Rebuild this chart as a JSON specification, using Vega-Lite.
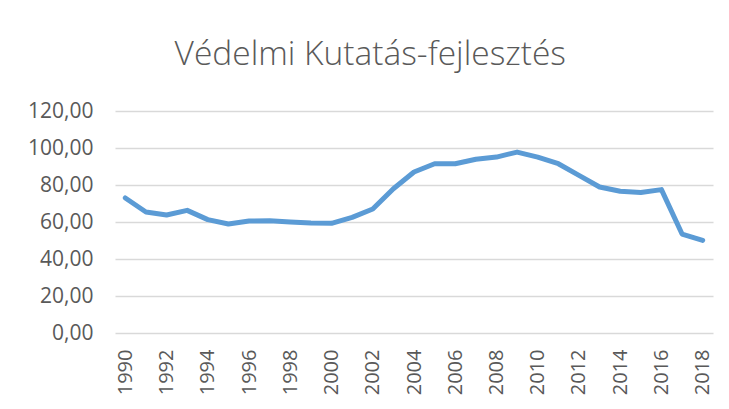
{
  "$schema": "https://vega.github.io/schema/vega-lite/v6.json",
  "width": 598,
  "height": 222,
  "autosize": {"type": "none"},
  "padding": {"left": 115, "top": 111, "right": 16, "bottom": 76},
  "title": {
    "text": "Védelmi Kutatás-fejlesztés",
    "font": "Open Sans",
    "fontSize": 33.5,
    "fontWeight": 300,
    "color": "#595959",
    "anchor": "middle",
    "frame": "bounds",
    "baseline": "alphabetic",
    "offset": 2
  },
  "config": {
    "view": {"stroke": null},
    "axis": {"labelFont": "Open Sans", "labelColor": "#595959", "titleFont": "Open Sans"}
  },
  "data": {
    "values": [
      {"year": 1990, "value": 73.0},
      {"year": 1991, "value": 65.4},
      {"year": 1992, "value": 63.8},
      {"year": 1993, "value": 66.3},
      {"year": 1994, "value": 61.3},
      {"year": 1995, "value": 58.9},
      {"year": 1996, "value": 60.5},
      {"year": 1997, "value": 60.7},
      {"year": 1998, "value": 60.0},
      {"year": 1999, "value": 59.5},
      {"year": 2000, "value": 59.3},
      {"year": 2001, "value": 62.5},
      {"year": 2002, "value": 67.0},
      {"year": 2003, "value": 78.0},
      {"year": 2004, "value": 87.0},
      {"year": 2005, "value": 91.5},
      {"year": 2006, "value": 91.5},
      {"year": 2007, "value": 93.9},
      {"year": 2008, "value": 95.1},
      {"year": 2009, "value": 97.8},
      {"year": 2010, "value": 95.1},
      {"year": 2011, "value": 91.5},
      {"year": 2012, "value": 85.2},
      {"year": 2013, "value": 78.9},
      {"year": 2014, "value": 76.6},
      {"year": 2015, "value": 75.9},
      {"year": 2016, "value": 77.5},
      {"year": 2017, "value": 53.5},
      {"year": 2018, "value": 50.1}
    ]
  },
  "mark": {"type": "line", "color": "#5B9BD5", "strokeWidth": 5, "strokeCap": "round", "strokeJoin": "round"},
  "encoding": {
    "x": {
      "field": "year",
      "type": "ordinal",
      "scale": {"type": "point", "padding": 0.5},
      "axis": {
        "title": null,
        "values": [1990, 1992, 1994, 1996, 1998, 2000, 2002, 2004, 2006, 2008, 2010, 2012, 2014, 2016, 2018],
        "labelAngle": -90,
        "labelAlign": "right",
        "labelBaseline": "middle",
        "labelFontSize": 20,
        "labelPadding": 16,
        "ticks": false,
        "domain": false,
        "grid": false
      }
    },
    "y": {
      "field": "value",
      "type": "quantitative",
      "scale": {"domain": [0, 120], "nice": false},
      "axis": {
        "title": null,
        "values": [0, 20, 40, 60, 80, 100, 120],
        "labelExpr": "replace(format(datum.value, '.2f'), '.', ',')",
        "labelFontSize": 21,
        "labelPadding": 22,
        "ticks": false,
        "domain": false,
        "grid": true,
        "gridColor": "#D9D9D9",
        "gridWidth": 1.5
      }
    }
  }
}
